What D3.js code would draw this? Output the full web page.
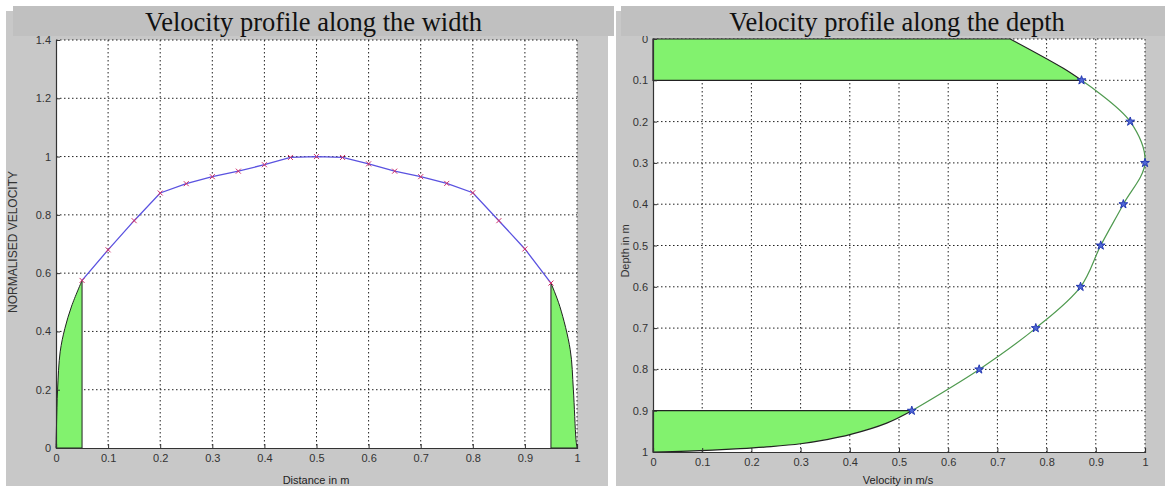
<!DOCTYPE html>
<html><head><meta charset="utf-8">
<script src="https://cdn.jsdelivr.net/npm/d3@7/dist/d3.min.js"></script>
<style>body{margin:0;background:#fff}svg{display:block}</style>
</head><body><svg id="c" width="1165" height="486"></svg>
<script>
// ---------- data: left chart (velocity profile along the width) ----------
const widthTitle = "Velocity profile along the width";
const widthXLabel = "Distance in m";
const widthYLabel = "NORMALISED VELOCITY";
const widthX = [0.05,0.1,0.15,0.2,0.25,0.3,0.35,0.4,0.45,0.5,0.55,0.6,0.65,0.7,0.75,0.8,0.85,0.9,0.95];
const widthV = [0.575,0.68,0.78,0.875,0.907,0.931,0.95,0.972,0.997,1.0,0.997,0.975,0.95,0.931,0.908,0.876,0.78,0.683,0.566];
const wallLeftX = [0,0.001,0.003,0.008,0.017,0.03,0.05];
const wallLeftV = [0,0.08,0.2,0.33,0.41,0.487,0.575];
const wallRightX = [0.95,0.967,0.987,0.993,0.998,1.0];
const wallRightV = [0.566,0.486,0.337,0.2,0.03,0];
const widthXTicks = [0,0.1,0.2,0.3,0.4,0.5,0.6,0.7,0.8,0.9,1];
const widthYTicks = [0,0.2,0.4,0.6,0.8,1,1.2,1.4];

// ---------- data: right chart (velocity profile along the depth) ----------
const depthTitle = "Velocity profile along the depth";
const depthXLabel = "Velocity in m/s";
const depthYLabel = "Depth in m";
const depthD = [0.1,0.2,0.3,0.4,0.5,0.6,0.7,0.8,0.9];
const depthV = [0.871,0.97,1.0,0.956,0.91,0.869,0.778,0.663,0.526];
const surfV = [0.726,0.834,0.871];
const surfD = [0,0.071,0.1];
const bedV = [0.526,0.475,0.4,0.353,0.3,0.24,0.177,0.07,0];
const bedD = [0.9,0.93,0.958,0.97,0.98,0.987,0.992,0.998,1.0];
const depthXTicks = [0,0.1,0.2,0.3,0.4,0.5,0.6,0.7,0.8,0.9,1];
const depthYTicks = [0,0.1,0.2,0.3,0.4,0.5,0.6,0.7,0.8,0.9,1];

// ---------- styles ----------
const PANEL = "#c8c8c8", TITLEBAR = "#c0c0c0", FILL = "#82f26e";
const SANS = "'Liberation Sans', Arial, sans-serif";
const SERIF = "'Liberation Serif', 'Times New Roman', serif";
const fmt = d => String(+d.toFixed(1));
const smooth = d3.line().curve(d3.curveCatmullRom.alpha(0.5));

const svg = d3.select("#c");
svg.append("rect").attr("width",1165).attr("height",486).attr("fill","#fff");

function frame(cfg){
  const g = svg.append("g");
  g.append("rect").attr("x",cfg.panel[0]).attr("y",cfg.panel[1]).attr("width",cfg.panel[2]).attr("height",cfg.panel[3]).attr("fill",PANEL);
  const [x0,x1,y0,y1] = cfg.plot;
  g.append("rect").attr("x",x0).attr("y",y0).attr("width",x1-x0).attr("height",y1-y0).attr("fill","#fff");
  const x = d3.scaleLinear().domain(cfg.xDom).range([x0,x1]);
  const y = d3.scaleLinear().domain(cfg.yDom).range(cfg.yRange);
  const grid = g.append("g").attr("stroke","#222").attr("stroke-width",1).attr("stroke-dasharray","1.5,2.5");
  cfg.xTicks.filter(t => x(t) > x0 + 1).forEach(t => grid.append("line").attr("x1",x(t)).attr("x2",x(t)).attr("y1",y0).attr("y2",y1));
  cfg.yTicks.filter(t => Math.abs(y(t) - y1) > 1).forEach(t => grid.append("line").attr("y1",y(t)).attr("y2",y(t)).attr("x1",x0).attr("x2",x1));
  return {g,x,y};
}

function axes(f, cfg){
  const {g,x,y} = f;
  const [x0,x1,y0,y1] = cfg.plot;
  const ax = g.append("g").attr("transform",`translate(0,${y1})`)
    .call(d3.axisBottom(x).tickValues(cfg.xTicks).tickFormat(fmt).tickSize(-4).tickPadding(6));
  const ay = g.append("g").attr("transform",`translate(${x0},0)`)
    .call(d3.axisLeft(y).tickValues(cfg.yTicks).tickFormat(fmt).tickSize(-4).tickPadding(5));
  [ax,ay].forEach(a => {
    a.select(".domain").attr("stroke","#333").attr("stroke-width",1.2);
    a.selectAll(".tick line").attr("stroke","#333");
    a.selectAll("text").attr("font-family",SANS).attr("font-size",11).attr("fill","#333");
  });
  g.append("text").attr("x",cfg.xLab[0]).attr("y",cfg.xLab[1]).attr("text-anchor","middle")
    .attr("font-family",SANS).attr("font-size",11).attr("fill","#222").text(cfg.xLabel);
  g.append("text").attr("transform",`translate(${cfg.yLab[0]},${cfg.yLab[1]}) rotate(-90)`).attr("text-anchor","middle")
    .attr("font-family",SANS).attr("font-size",cfg.yLabSize).attr("fill","#333").text(cfg.yLabel);
}

function titleBar(rect, cx, text){
  svg.append("rect").attr("x",rect[0]).attr("y",rect[1]).attr("width",rect[2]).attr("height",rect[3]).attr("fill",TITLEBAR);
  svg.append("text").attr("x",cx).attr("y",31).attr("text-anchor","middle")
    .attr("font-family",SERIF).attr("font-size",26.5).attr("fill","#111").text(text);
}

// ---------- left chart ----------
const cfgL = {panel:[6,11,602,475], plot:[56,577,40,448], xDom:[0,1], yDom:[0,1.4], yRange:[448,40],
  xTicks:widthXTicks, yTicks:widthYTicks, xLabel:widthXLabel, yLabel:widthYLabel,
  xLab:[316,484], yLab:[17,242], yLabSize:12};
const L = frame(cfgL);
{
  const {g,x,y} = L;
  const lw = wallLeftX.map((d,i)=>[x(d),y(wallLeftV[i])]);
  const lEnd = lw[lw.length-1];
  g.append("path").attr("d", smooth(lw) + `L${lEnd[0]},${y(0)}Z`)
    .attr("fill",FILL).attr("stroke","#222").attr("stroke-width",1);
  const rw = wallRightX.map((d,i)=>[x(d),y(wallRightV[i])]);
  g.append("path").attr("d", smooth(rw) + `L${rw[0][0]},${y(0)}Z`)
    .attr("fill",FILL).attr("stroke","#222").attr("stroke-width",1);
  const pts = widthX.map((d,i)=>[x(d),y(widthV[i])]);
  g.append("path").attr("d", d3.line()(pts)).attr("fill","none").attr("stroke","#5a52e0").attr("stroke-width",1.3);
  g.selectAll(".mk").data(pts).join("path").attr("class","mk")
    .attr("transform",d=>`translate(${d[0]},${d[1]})`).attr("d","M-2.5,-2.5L2.5,2.5M2.5,-2.5L-2.5,2.5")
    .attr("stroke","#d0306a").attr("stroke-width",1).attr("fill","none");
}
axes(L, cfgL);

// ---------- right chart ----------
const cfgR = {panel:[616,11,549,475], plot:[653,1145,39,452], xDom:[0,1], yDom:[0,1], yRange:[39,452],
  xTicks:depthXTicks, yTicks:depthYTicks, xLabel:depthXLabel, yLabel:depthYLabel,
  xLab:[898,484], yLab:[629,251], yLabSize:11};
const R = frame(cfgR);
{
  const {g,x,y} = R;
  const top = surfV.map((v,i)=>[x(v),y(surfD[i])]);
  g.append("path").attr("d", `M${x(0)},${y(0)}L` + smooth(top).slice(1) + `L${x(0)},${y(surfD[surfD.length-1])}Z`)
    .attr("fill",FILL).attr("stroke","#222").attr("stroke-width",1.2);
  const bed = bedV.map((v,i)=>[x(v),y(bedD[i])]);
  g.append("path").attr("d", `M${x(0)},${y(bedD[0])}L` + smooth(bed).slice(1) + "Z")
    .attr("fill",FILL).attr("stroke","#222").attr("stroke-width",1.2);
  const pts = depthV.map((v,i)=>[x(v),y(depthD[i])]);
  g.append("path").attr("d", smooth(pts)).attr("fill","none").attr("stroke","#4f9a4f").attr("stroke-width",1.2);
  g.selectAll(".st").data(pts).join("path").attr("class","st")
    .attr("transform",d=>`translate(${d[0]},${d[1]})`).attr("d", d3.symbol(d3.symbolStar, 24)())
    .attr("fill","#5068d8").attr("stroke","#2438b0").attr("stroke-width",1);
}
axes(R, cfgR);

// ---------- title bars (drawn last, overlapping top of plots) ----------
titleBar([13,6,601,30], 313.5, widthTitle);
titleBar([621,6,544,30], 897, depthTitle);
</script></body></html>
